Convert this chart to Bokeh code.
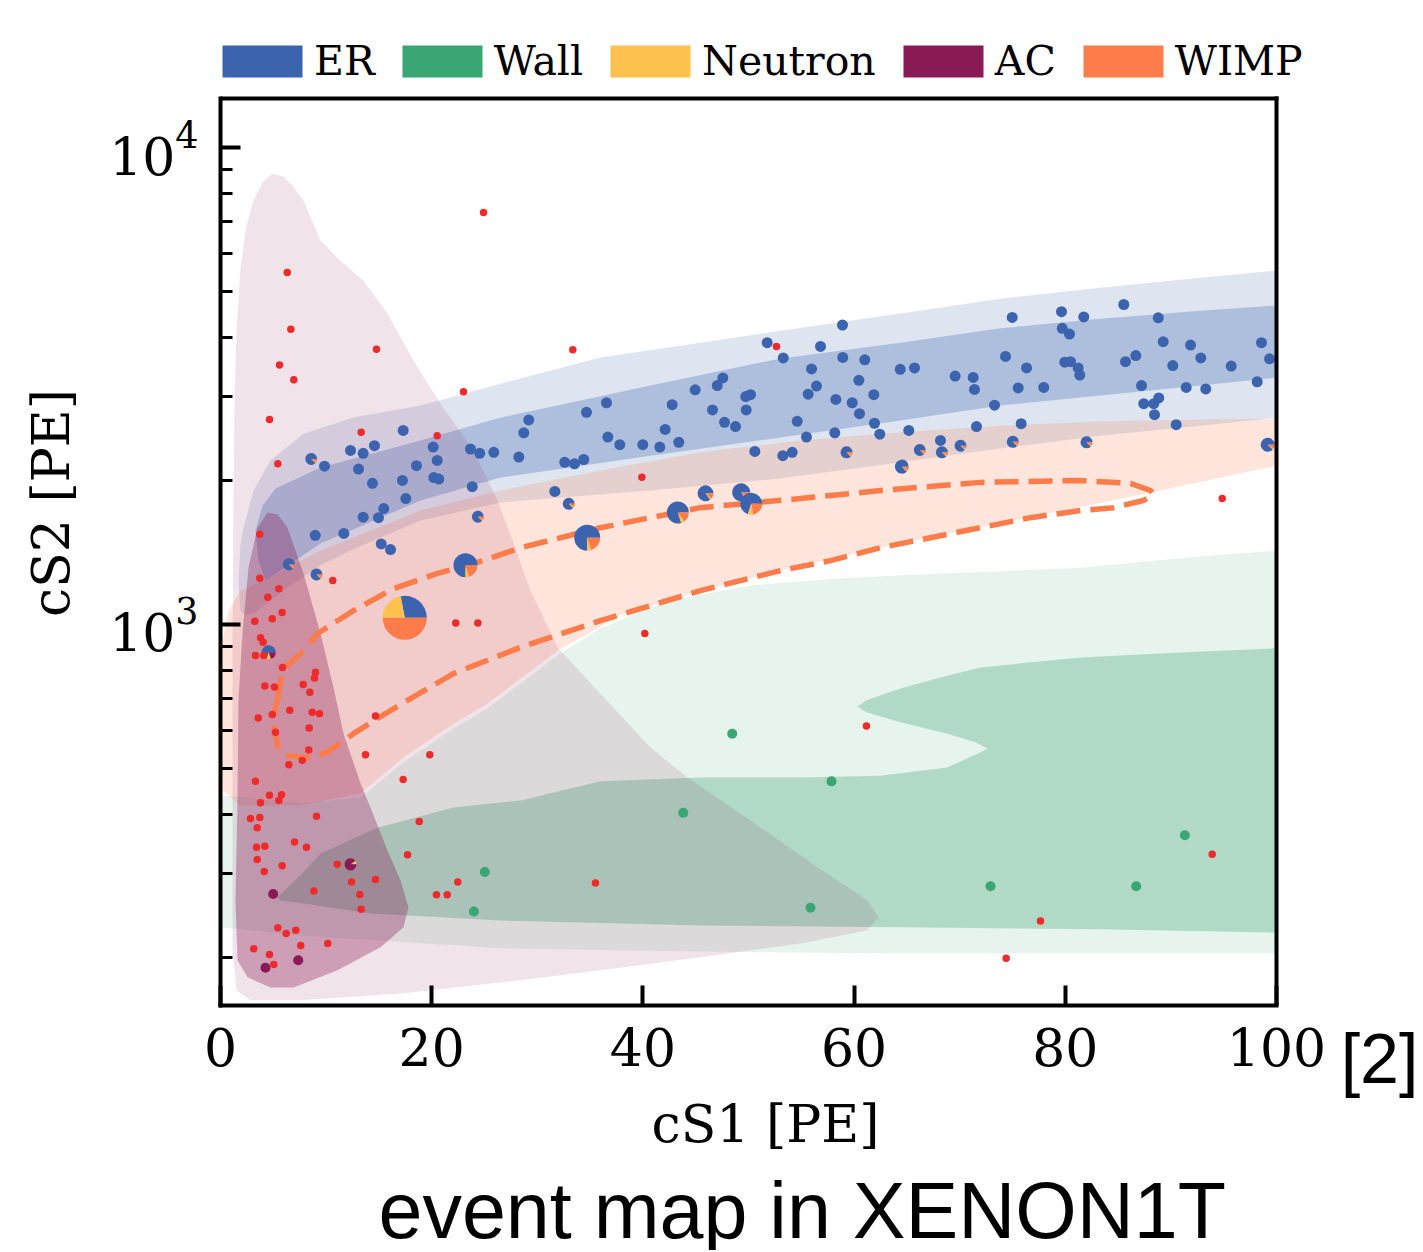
import math
from bokeh.plotting import figure
from bokeh.models import Range1d, FixedTicker, Legend, LegendItem, ColumnDataSource, Title
from bokeh.embed import file_html
from bokeh.resources import INLINE

# ------------------------------------------------------------------
# DATA  (x = cS1 [PE], second value = log10(cS2 [PE]))
# ------------------------------------------------------------------
categories = ["ER", "Wall", "Neutron", "AC", "WIMP"]
colors = {"ER": "#3b63ae", "Wall": "#3aa673", "Neutron": "#fdc14e",
          "AC": "#8a1a54", "WIMP": "#fd7c4a"}
RED = "#ee2a2a"

x_limits = (0, 100)
y_limits_log = (2.201, 4.103)
x_ticks = [0, 20, 40, 60, 80, 100]
y_ticks = [1000, 10000]
y_minor = [200, 300, 400, 500, 600, 700, 800, 900,
           2000, 3000, 4000, 5000, 6000, 7000, 8000, 9000]
title_text = "event map in XENON1T"
ref_text = "[2]"

# contour regions
ac_outer = [(2.84,2.212),(1.52,2.233),(1.14,2.317),(1.14,2.631),(1.14,2.945),(1.23,3.260),(1.33,3.470),
            (1.52,3.616),(1.89,3.748),(2.46,3.836),(3.13,3.889),(3.98,3.927),(4.92,3.945),(5.97,3.939),
            (6.91,3.918),(7.86,3.889),(9.47,3.805),(11.36,3.763),(13.54,3.721),(15.81,3.652),(18.28,3.553),
            (20.83,3.463),(23.96,3.365),(26.23,3.260),(27.75,3.170),(29.36,3.071),(31.91,2.952),(35.98,2.855),
            (40.72,2.742),(44.22,2.679),(50.19,2.589),(56.53,2.491),(61.27,2.421),(62.31,2.386),(61.27,2.359),
            (54.92,2.331),(45.45,2.302),(35.98,2.275),(26.52,2.249),(17.05,2.226),(7.58,2.212)]
ac_inner = [(1.70,2.841),(2.08,2.981),(2.65,3.119),(3.50,3.203),(4.45,3.235),(5.40,3.231),(6.34,3.203),
            (7.86,3.107),(9.47,2.981),(10.70,2.868),(11.65,2.771),(13.26,2.667),(14.20,2.616),(15.81,2.526),
            (17.05,2.463),(17.80,2.407),(17.33,2.365),(15.15,2.323),(11.08,2.275),(6.91,2.239),(4.73,2.239),
            (2.56,2.260),(1.61,2.296),(1.42,2.421),(1.61,2.631)]
er_outer_up = [(1.89,3.029),(1.70,3.092),(1.89,3.166),(2.18,3.203),(3.13,3.281),(4.73,3.344),(7.86,3.400),
               (12.59,3.434),(18.94,3.459),(26.52,3.505),(35.98,3.560),(45.45,3.591),(53.03,3.616),
               (64.39,3.652),(73.86,3.683),(83.33,3.706),(92.80,3.727),(100,3.742)]
er_outer_lo = [(100,3.434),(92.80,3.417),(83.33,3.396),(73.86,3.369),(64.39,3.340),(53.03,3.306),
               (40.72,3.281),(26.52,3.256),(18.94,3.218),(12.31,3.155),(9.47,3.124),(6.63,3.082),
               (4.73,3.050),(3.31,3.025),(2.37,3.019)]
er_inner_up = [(3.60,3.134),(3.31,3.197),(3.98,3.249),(5.21,3.285),(9.47,3.329),(18.94,3.386),(26.52,3.434),
               (40.72,3.501),(53.03,3.558),(64.39,3.591),(73.86,3.621),(83.33,3.641),(92.80,3.658),(100,3.669)]
er_inner_lo = [(100,3.518),(92.80,3.501),(83.33,3.480),(73.86,3.459),(64.39,3.428),(53.03,3.392),
               (40.72,3.354),(26.52,3.308),(18.94,3.260),(9.47,3.170),(5.68,3.113),(4.26,3.092)]
wimp_up = [(0.19,2.966),(0.76,3.029),(1.89,3.071),(4.73,3.099),(9.47,3.155),(18.94,3.239),(26.52,3.281),
           (35.98,3.323),(45.45,3.361),(54.92,3.386),(64.39,3.403),(73.86,3.417),(83.33,3.426),(92.80,3.430),
           (100,3.432)]
wimp_lo = [(100,3.333),(87.78,3.275),(75.09,3.218),(62.50,3.161),(53.03,3.113),(45.45,3.071),(37.88,3.019),
           (31.91,2.945),(25.28,2.834),(22.06,2.792),(17.33,2.721),(13.26,2.646),(7.58,2.621),(1.89,2.621),
           (0.19,2.652)]
wall_outer_up = [(0,2.642),(7.58,2.625),(13.26,2.637),(17.33,2.711),(22.06,2.782),(25.28,2.824),(31.91,2.935),
                 (35.98,2.992),(42.33,3.050),(50.19,3.082),(58.05,3.096),(64.39,3.103),(81.44,3.119),
                 (92.80,3.143),(100,3.155)]
wall_outer_lo = [(100,2.310),(64.39,2.310),(45.45,2.314),(26.52,2.321),(7.58,2.348),(0,2.365)]
wall_inner = [(5.40,2.428),(7.58,2.474),(9.47,2.520),(14.87,2.574),(22.06,2.616),(28.41,2.631),(35.98,2.671),
              (45.45,2.679),(54.92,2.679),(62.50,2.683),(68.84,2.700),(71.97,2.732),(72.63,2.740),(71.50,2.753),
              (68.84,2.771),(64.39,2.795),(61.17,2.816),(60.32,2.828),(61.17,2.841),(64.39,2.866),(68.18,2.889),
              (71.97,2.910),(81.44,2.931),(90.91,2.941),(100,2.950),(100,2.354),(83.33,2.361),(64.39,2.365),
              (45.45,2.369),(26.52,2.379),(14.20,2.394),(7.86,2.415),(5.68,2.421)]
wimp_contour = [(5.40,2.841),(5.68,2.883),(6.34,2.914),(7.86,2.945),(9.19,2.981),(12.59,3.029),(16.38,3.075),
                (20.55,3.107),(24.91,3.134),(28.41,3.161),(35.98,3.203),(45.45,3.245),(54.92,3.264),
                (62.50,3.281),(71.97,3.298),(81.44,3.302),(86.17,3.296),(88.07,3.281),(88.35,3.273),
                (87.41,3.260),(84.56,3.245),(81.44,3.239),(76.70,3.224),(71.97,3.203),(67.23,3.182),
                (62.50,3.161),(57.77,3.134),(53.03,3.113),(45.45,3.071),(35.98,3.008),(28.41,2.952),
                (22.06,2.897),(17.71,2.841),(14.87,2.803),(12.59,2.771),(10.13,2.732),(8.24,2.721),
                (6.34,2.725),(5.49,2.736),(5.21,2.771),(5.02,2.809),(5.40,2.841)]

# events
er_events = [(17.30,3.407),(9.85,3.332),(12.31,3.365),(13.51,3.359),(14.58,3.375),(13.07,3.326),(18.56,3.333),
             (20.14,3.372),(20.52,3.344),(23.67,3.368),(24.55,3.359),(25.88,3.361),(28.25,3.351),(14.39,3.296),
             (17.23,3.302),(20.20,3.308),(20.67,3.305),(23.84,3.289),(17.55,3.264),(15.46,3.243),(13.51,3.225),
             (14.96,3.224),(8.97,3.187),(11.68,3.191),(15.22,3.169),(16.10,3.157),
             (51.77,3.591),(53.29,3.559),(47.57,3.517),(47.04,3.501),(44.95,3.492),(49.74,3.478),(50.19,3.482),
             (42.77,3.461),(36.55,3.465),(34.66,3.445),(29.19,3.429),(28.72,3.402),(46.59,3.450),(49.78,3.450),
             (54.61,3.426),(47.73,3.424),(48.77,3.415),(42.11,3.409),(36.68,3.393),(37.81,3.377),(39.99,3.377),
             (41.60,3.372),(43.40,3.382),(32.60,3.340),(33.52,3.337),(34.40,3.346),(50.60,3.363),(53.25,3.354),
             (54.14,3.361),(31.66,3.279),
             (58.90,3.628),(56.82,3.583),(58.93,3.560),(61.01,3.555),(55.97,3.536),(60.45,3.512),(56.44,3.500),
             (55.65,3.483),(61.87,3.482),(58.27,3.472),(59.82,3.465),(60.51,3.442),(61.93,3.422),(62.43,3.399),
             (58.17,3.402),(55.49,3.393),(65.18,3.407),(64.37,3.535),(65.72,3.538),(69.57,3.521),(71.28,3.518),
             (71.40,3.493),(73.30,3.460),(71.59,3.415),(74.34,3.562),(74.97,3.644),(76.33,3.538),(75.54,3.496),
             (77.96,3.497),(75.82,3.421),(68.18,3.386),
             (79.64,3.656),(81.75,3.645),(79.71,3.621),(80.40,3.609),(85.54,3.671),(88.80,3.643),(79.95,3.550),
             (80.49,3.551),(81.22,3.538),(81.37,3.523),(85.70,3.551),(86.68,3.564),(89.27,3.593),(91.86,3.586),
             (92.83,3.559),(90.18,3.543),(95.71,3.542),(98.58,3.591),(99.34,3.557),(87.22,3.501),(91.45,3.497),
             (93.30,3.494),(98.17,3.509),(87.43,3.463),(88.38,3.463),(88.85,3.475),(88.45,3.440),(90.50,3.419)]
red_events = [(6.32,3.738),(6.66,3.619),(5.59,3.544),(6.94,3.513),(24.91,3.864),(23.01,3.488),(14.77,3.577),
              (4.64,3.430),(13.32,3.403),(20.52,3.396),(5.43,3.337),(3.72,3.189),(3.72,3.097),(10.63,3.092),
              (5.52,3.075),(4.48,3.057),(5.84,3.025),(4.90,3.012),(3.25,3.007),(3.79,2.972),(4.04,2.963),
              (3.31,2.935),(4.10,2.935),(5.87,2.910),(9.00,2.900),(8.90,2.888),(4.20,2.871),(5.11,2.869),
              (7.83,2.874),(8.46,2.858),(22.28,3.003),(24.37,3.003),
              (3.57,2.804),(4.90,2.811),(6.56,2.820),(8.68,2.816),(9.38,2.813),(14.68,2.808),(8.40,2.783),
              (5.21,2.774),(8.36,2.737),(7.74,2.715),(6.47,2.706),(13.73,2.727),(19.82,2.727),(17.30,2.675),
              (3.31,2.671),(4.64,2.642),(5.78,2.643),(5.52,2.631),(3.79,2.626),(2.84,2.593),(3.72,2.595),
              (9.09,2.598),(3.48,2.574),(18.82,2.587),(7.01,2.544),(8.14,2.533),(3.41,2.533),(4.20,2.535),
              (3.48,2.507),(5.84,2.494),(4.14,2.482),(17.71,2.517),(11.05,2.497),(12.41,2.460),(14.68,2.465),
              (8.84,2.441),(13.19,2.434),(13.32,2.403),(22.47,2.460),(20.45,2.433),(21.47,2.433),(5.43,2.364),
              (6.22,2.352),(7.13,2.359),(3.15,2.320),(4.64,2.308),(7.60,2.327),(10.16,2.331),(5.05,2.287),
              (33.36,3.576),(52.65,3.583),(39.90,3.309),(40.18,2.981),(61.17,2.787),(35.51,2.458),
              (94.86,3.264),(93.91,2.518),(77.65,2.378),(74.40,2.300)]
wall_events = [(25.03,2.481),(23.99,2.398),(48.46,2.771),(57.86,2.671),(43.82,2.605),(55.87,2.406),
               (91.32,2.558),(72.92,2.451),(86.71,2.451)]
ac_events = [(4.99,2.435),(4.26,2.280),(7.36,2.296)]
# pie events: x, log10 cS2, radius(px), fractions ER, Neutron, WIMP, AC
pie_events = [(17.45,3.014,22,0.28,0.22,0.50,0.0),(23.20,3.124,12,0.75,0.05,0.20,0.0),
              (34.73,3.182,13,0.75,0.05,0.20,0.0),(43.31,3.235,11,0.80,0.05,0.15,0.0),
              (45.93,3.275,8,0.85,0.03,0.12,0.0),(49.31,3.277,9,0.85,0.02,0.13,0.0),
              (50.26,3.253,11,0.70,0.08,0.22,0.0),
              (8.59,3.347,6,0.88,0.03,0.09,0.0),(6.47,3.126,6,0.88,0.03,0.09,0.0),(9.09,3.105,6,0.88,0.03,0.09,0.0),
              (24.37,3.226,6,0.88,0.03,0.09,0.0),(32.98,3.253,6,0.88,0.03,0.09,0.0),(59.28,3.361,6,0.88,0.03,0.09,0.0),
              (75.03,3.383,6,0.88,0.03,0.09,0.0),(68.31,3.361,6,0.88,0.03,0.09,0.0),(66.22,3.366,6,0.88,0.03,0.09,0.0),
              (70.08,3.375,6,0.88,0.03,0.09,0.0),(64.52,3.331,7,0.88,0.03,0.09,0.0),(82.01,3.382,6,0.88,0.03,0.09,0.0),
              (99.17,3.377,7,0.88,0.03,0.09,0.0),(4.57,2.942,7,0.70,0.10,0.0,0.20),
              (12.31,2.497,6,0.0,0.10,0.0,0.90)]

# ------------------------------------------------------------------
def unzip(pairs):
    return [q[0] for q in pairs], [10 ** q[1] for q in pairs]

SERIF = "DejaVu Serif"
SANS = "Liberation Sans"

# page geometry (pixels)
W, H = 1420, 1250
BOX_LEFT, BOX_W, BOX_TOP, BOX_H = 220, 1056, 98, 907
EXTRA_RIGHT = 34                     # drawing area continues a little right of the box (legend room)
px_per_x = BOX_W / (x_limits[1] - x_limits[0])
px_per_dec = BOX_H / (y_limits_log[1] - y_limits_log[0])
x_end = x_limits[1] + EXTRA_RIGHT / px_per_x
y_end = 10 ** (y_limits_log[1] + BOX_TOP / px_per_dec)
Y_BOT, Y_TOP = 10 ** y_limits_log[0], 10 ** y_limits_log[1]

p = figure(width=W, height=H, x_range=Range1d(x_limits[0], x_end),
           y_range=Range1d(Y_BOT, y_end), y_axis_type="log",
           output_backend="svg", toolbar_location=None,
           min_border_left=BOX_LEFT, min_border_right=W - BOX_LEFT - BOX_W - EXTRA_RIGHT,
           min_border_top=0, min_border_bottom=H - BOX_TOP - BOX_H)
p.xgrid.visible = False
p.ygrid.visible = False
p.outline_line_color = None
p.background_fill_color = "white"
p.border_fill_color = "white"

# regions
regions = [
    (wall_outer_up + wall_outer_lo, colors["Wall"], 0.12),
    (wall_inner, colors["Wall"], 0.32),
    (er_outer_up + er_outer_lo, colors["ER"], 0.17),
    (er_inner_up + er_inner_lo, colors["ER"], 0.29),
    (wimp_up + wimp_lo, colors["WIMP"], 0.20),
    (ac_outer, colors["AC"], 0.12),
    (ac_inner, colors["AC"], 0.34),
]
for pairs, col, alpha in regions:
    xs, ys = unzip(pairs)
    p.patch(xs, ys, fill_color=col, fill_alpha=alpha, line_color=None)

xs, ys = unzip(wimp_contour)
p.line(xs, ys, line_color=colors["WIMP"], line_width=5.5, line_dash="24 10")

# events
xs, ys = unzip(er_events)
p.scatter(xs, ys, size=11, fill_color=colors["ER"], line_color=None)
xs, ys = unzip(wall_events)
p.scatter(xs, ys, size=10, fill_color=colors["Wall"], line_color=None)
xs, ys = unzip(ac_events)
p.scatter(xs, ys, size=10, fill_color=colors["AC"], line_color=None)

wx, wy, wr, ws, we, wc = [], [], [], [], [], []
for (x, lg, r, f_er, f_nr, f_wimp, f_ac) in pie_events:
    start = 0.0
    for frac, key in ((f_er, "ER"), (f_nr, "Neutron"), (f_wimp, "WIMP"), (f_ac, "AC")):
        if frac <= 0:
            continue
        end = start + 2 * math.pi * frac
        wx.append(x); wy.append(10 ** lg); wr.append(r)
        ws.append(start); we.append(end); wc.append(colors[key])
        start = end
src = ColumnDataSource(dict(x=wx, y=wy, r=wr, s=ws, e=we, c=wc))
p.wedge(x="x", y="y", radius="r", radius_units="screen", start_angle="s", end_angle="e",
        fill_color="c", line_color=None, source=src)

xs, ys = unzip(red_events)
p.scatter(xs, ys, size=7.5, fill_color=RED, line_color=None)

# top and right spines of the axes box
p.segment(x0=[x_limits[0], x_limits[1]], y0=[Y_TOP, Y_BOT], x1=[x_limits[1], x_limits[1]], y1=[Y_TOP, Y_TOP],
          line_color="black", line_width=4, line_cap="square")

# axes
p.xaxis.ticker = FixedTicker(ticks=x_ticks)
p.yaxis.ticker = FixedTicker(ticks=y_ticks, minor_ticks=y_minor)
p.xaxis.bounds = x_limits
p.yaxis.bounds = (Y_BOT, Y_TOP)
p.xaxis.axis_label = "cS1 [PE]"
p.yaxis.axis_label = "cS2 [PE]"
for ax in (p.xaxis[0], p.yaxis[0]):
    ax.axis_line_width = 4
    ax.axis_line_color = "black"
    ax.axis_line_cap = "square"
    ax.major_tick_line_width = 4
    ax.major_tick_line_color = "black"
    ax.major_tick_in = 20
    ax.major_tick_out = 0
    ax.major_label_text_font = SERIF
    ax.major_label_text_font_size = "52px"
    ax.major_label_text_color = "black"
    ax.axis_label_text_font = SERIF
    ax.axis_label_text_font_size = "52px"
    ax.axis_label_text_font_style = "normal"
    ax.axis_label_text_color = "black"
p.xaxis.minor_tick_line_color = None
p.xaxis.major_label_standoff = 22
p.xaxis.axis_label_standoff = 25
p.yaxis.minor_tick_in = 12
p.yaxis.minor_tick_out = 0
p.yaxis.minor_tick_line_width = 3
p.yaxis.minor_tick_line_color = "black"
p.yaxis.major_label_standoff = 22
p.yaxis.axis_label_standoff = 25

# category legend, above the axes box
items = []
for name in categories:
    r = p.quad(left=[-20], right=[-10], bottom=[1], top=[2], fill_color=colors[name], line_color=None)
    items.append(LegendItem(label=name, renderers=[r]))
legend = Legend(items=items, orientation="horizontal", location=(-8, 920),
                glyph_width=100, glyph_height=40, label_standoff=2, spacing=17,
                padding=0, margin=0, border_line_alpha=0, background_fill_alpha=0,
                label_text_font=SERIF, label_text_font_size="41px", label_text_color="black")
p.add_layout(legend)

# below the x axis: an invisible spacer, the reference mark next to the last tick label,
# and the slide caption at the bottom
spacer = Title(text=" ", align="left", standoff=72, text_font=SANS, text_font_size="10px",
               text_font_style="normal", text_color="white")
p.add_layout(spacer, "below")
ref_mark = Title(text=ref_text, align="right", offset=-(W - BOX_LEFT - BOX_W - EXTRA_RIGHT) + 2,
                 standoff=-444, vertical_align="top",
                 text_font=SANS, text_font_size="70px", text_font_style="normal", text_color="black")
p.add_layout(ref_mark, "below")
caption = Title(text=title_text, align="left", offset=158, standoff=-152, vertical_align="top",
                text_font=SANS, text_font_size="79px", text_font_style="normal", text_color="black")
p.add_layout(caption, "below")

open("out.html", "w").write(file_html(p, INLINE))
